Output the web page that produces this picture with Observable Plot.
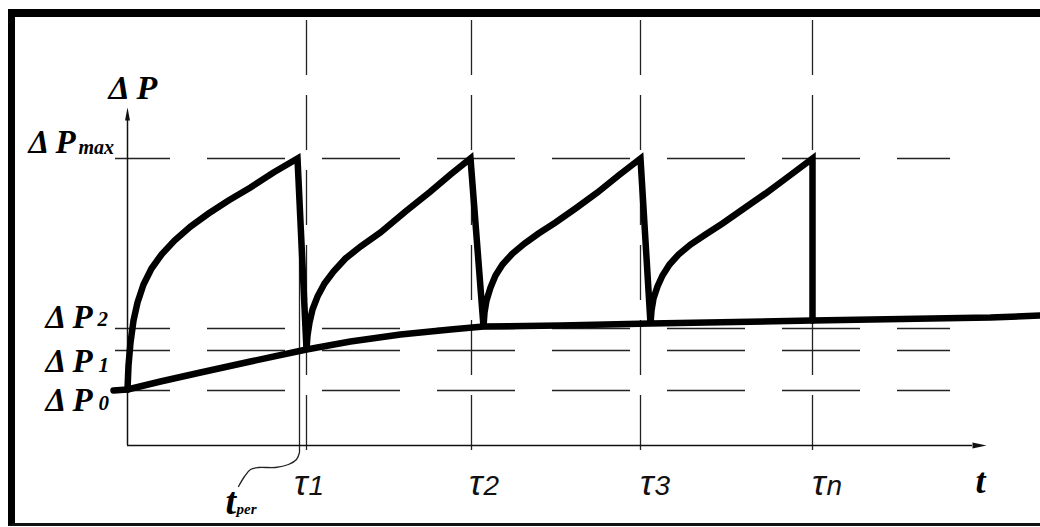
<!DOCTYPE html>
<html>
<head>
<meta charset="utf-8">
<script src="https://cdn.jsdelivr.net/npm/d3@7"></script>
<script src="https://cdn.jsdelivr.net/npm/@observablehq/plot@0.6"></script>
<style>
  html, body { margin: 0; padding: 0; background: white; }
  #wrap { position: relative; width: 1040px; height: 527px; overflow: hidden; background: white; }
  #frame { position: absolute; left: 8px; top: 9px; width: 1100px; height: 517px; box-sizing: border-box;
           border-left: 7px solid #000; border-top: 8px solid #000; border-bottom: 3px solid #111; }
  #wrap svg { position: absolute; left: 0; top: 0; }
</style>
</head>
<body>
<div id="wrap"><div id="frame"></div></div>
<script>
// ---- data (time t, pressure drop ΔP, arbitrary units) ----
const levelNames  = ["max", "2", "1", "0"];
const levelValues = [28.7, 11.7, 9.5, 5.5];
const tauNames  = ["1", "2", "3", "n"];
const tauValues = [17.9, 34.4, 51.3, 68.5];
const tPer = 17.2;
const yName = "Δ P";
const xName = "t";
const tPerName = ["t", "per"];

const rise1 = [[0,5.6],[0.1,8.0],[0.3,10.3],[0.6,12.5],[1.0,14.3],[1.6,16.1],[2.4,17.7],[3.4,19.1],[4.7,20.5],[6.3,21.9],[8.1,23.2],[10.1,24.5],[12.3,25.8],[14.6,27.3],[17.0,28.7]];
const rise2 = [[17.9,9.6],[18.0,11.0],[18.2,12.3],[18.5,13.6],[19.0,14.9],[19.7,16.2],[20.6,17.4],[21.8,18.7],[23.3,19.9],[25.3,21.3],[27.8,23.4],[30.3,25.4],[32.3,27.1],[34.3,28.7]];
const rise3 = [[35.6,11.9],[35.7,13.3],[35.9,14.5],[36.3,15.8],[36.8,17.0],[37.5,18.1],[38.5,19.2],[39.7,20.2],[41.1,21.2],[42.8,22.3],[44.8,23.7],[47.0,25.3],[49.1,27.0],[51.3,28.7]];
const rise4 = [[52.3,12.2],[52.4,13.5],[52.6,14.7],[53.0,15.9],[53.5,17.0],[54.2,18.1],[55.1,19.1],[56.3,20.1],[57.8,21.1],[59.5,22.2],[61.5,23.6],[63.8,25.2],[66.1,26.9],[68.5,28.7]];
const lastDrop = [[68.5,12.5]];
const baseline = [[-1.4,5.5],[0,5.6],[3.3,6.4],[7.3,7.3],[12.3,8.4],[17.9,9.6],[22.3,10.4],[27.3,11.1],[32.3,11.6],[35.6,11.9],[43.3,12.0],[52.3,12.2],[68.5,12.5],[86.3,12.8],[91.3,13.0]];
const tPerLeader = [[17.2,-0.7],[16.9,-1.4],[16.1,-1.9],[14.8,-2.2],[13.1,-2.2],[12.3,-2.4],[11.7,-3.1],[11.1,-4.1]];

const saw = [...rise1, ...rise2, ...rise3, ...rise4, ...lastDrop];

// ---- layout / styles ----
const serifBI = {fontFamily: "Liberation Serif, serif", fontStyle: "italic", fontWeight: "bold", fill: "black", lineAnchor: "bottom"};
const sansI = {fontFamily: "Liberation Sans, sans-serif", fontStyle: "italic", fontWeight: "normal", fill: "#111", lineAnchor: "bottom"};
const thin = {stroke: "#222", strokeWidth: 1.3};
const X = d => d[0], Y = d => d[1];

const levelLayout = [
  {x: -9.9, dy: -6, sx: -4.9, sdy: -5, sfs: 20},
  {x: -8.2, dy: -1, sx: -3.0, sdy: -3, sfs: 21},
  {x: -8.2, dy: 21, sx: -2.9, sdy: 21, sfs: 21},
  {x: -8.2, dy: 20, sx: -2.9, sdy: 19, sfs: 21}
];
const tauDx = [1, 11, 13, 13];

const levelMarks = levelValues.flatMap((v, i) => [
  Plot.text([v], {x: levelLayout[i].x, y: d => d, dy: levelLayout[i].dy, text: () => yName, ...serifBI, fontSize: 33, textAnchor: "start"}),
  Plot.text([v], {x: levelLayout[i].sx, y: d => d, dy: levelLayout[i].sdy, text: () => levelNames[i], ...serifBI, fontSize: levelLayout[i].sfs, textAnchor: "start"})
]);
const tauMarks = tauValues.flatMap((v, i) => [
  Plot.text([v], {x: d => d, y: -4.9, dx: tauDx[i], text: () => "τ", ...sansI, fontSize: 36, textAnchor: "end"}),
  Plot.text([v], {x: d => d, y: -4.9, dx: tauDx[i] + 1, text: () => tauNames[i], ...sansI, fontSize: 28, textAnchor: "start"})
]);

const chart = Plot.plot({
  width: 1040,
  height: 527,
  marginLeft: 127,
  marginRight: 0,
  marginTop: 0,
  marginBottom: 82,
  x: {domain: [0, 91.3], axis: null},
  y: {domain: [0, 44.5], axis: null},
  style: {background: "transparent", overflow: "visible"},
  marks: [
    // dashed guide lines
    Plot.ruleY(levelValues, {y: d => d, x1: -1.2, x2: 82.3, ...thin, strokeDasharray: "78,37", strokeDashoffset: 23}),
    Plot.ruleX(tauValues, {x: d => d, y1: 42.5, y2: -1.3, ...thin, strokeDasharray: "55,20"}),
    // t_per leader
    Plot.ruleX([tPer], {x: d => d, y1: 28.7, y2: -0.7, ...thin}),
    Plot.line(tPerLeader, {x: X, y: Y, curve: "catmull-rom", ...thin}),
    // axes
    Plot.ruleX([0], {x: d => d, y1: 0, y2: 32.5, stroke: "#111", strokeWidth: 1.5}),
    Plot.ruleY([0], {y: d => d, x1: 0, x2: 84.5, stroke: "#111", strokeWidth: 1.5}),
    Plot.vector([0], {x: 0, y: 32.5, length: 13, rotate: 0, shape: "spike", r: 2.5, anchor: "start", fill: "#111", stroke: "none"}),
    Plot.vector([0], {x: 84.5, y: 0, length: 14, rotate: 90, shape: "spike", r: 3, anchor: "start", fill: "#111", stroke: "none"}),
    // curves
    Plot.line(baseline, {x: X, y: Y, stroke: "black", strokeWidth: 6.5, strokeLinejoin: "round", strokeLinecap: "round"}),
    Plot.line(saw, {x: X, y: Y, stroke: "black", strokeWidth: 6.5, strokeLinejoin: "miter", strokeMiterlimit: 4}),
    // labels
    Plot.text([yName], {x: -1.9, y: 34.7, text: d => d, ...serifBI, fontSize: 34, textAnchor: "start"}),
    ...levelMarks,
    ...tauMarks,
    Plot.text([xName], {x: 84.8, y: -4.7, text: d => d, ...serifBI, fontSize: 36, textAnchor: "start"}),
    Plot.text([tPerName[0]], {x: 9.8, y: -6.8, text: d => d, ...serifBI, fontSize: 38, textAnchor: "start"}),
    Plot.text([tPerName[1]], {x: 10.9, y: -6.8, text: d => d, ...serifBI, fontSize: 15, textAnchor: "start"})
  ]
});
document.getElementById("wrap").appendChild(chart);
</script>
</body>
</html>
